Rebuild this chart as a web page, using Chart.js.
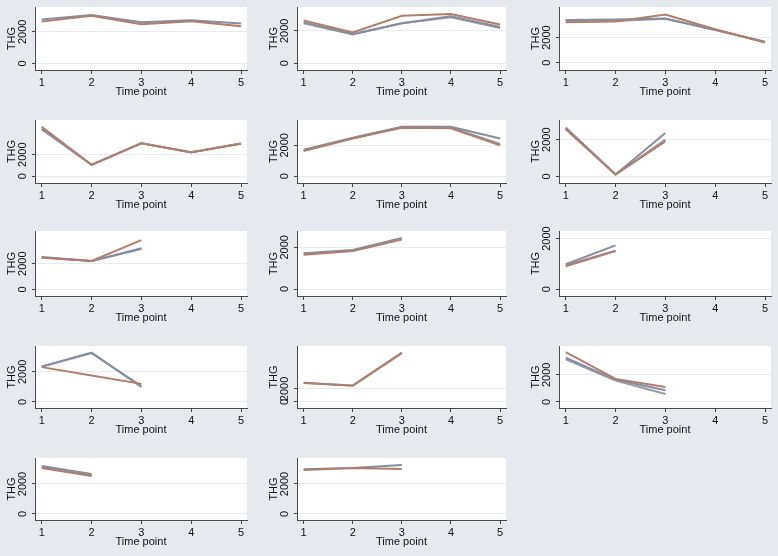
<!DOCTYPE html>
<html>
<head>
<meta charset="utf-8">
<script src="https://cdn.jsdelivr.net/npm/chart.js@4.4.1/dist/chart.umd.min.js"></script>
<style>
    html, body { margin: 0; padding: 0; width: 778px; height: 556px; overflow: hidden; background: #e6eaef; }
    canvas { position: absolute; }
</style>
</head>
<body>
<script>
// THG by time point, one small panel per subject (brown, blue-grey, grey lines)
const timePoints = [1, 2, 3, 4, 5];
const yTickValues = [0, 2000];

const p01 = [[2650, 3030, 2480, 2670, 2360], [2780, 3070, 2610, 2740, 2530]];
const p02 = [[2640, 1900, 2930, 3030, 2390], [2520, 1810, 2470, 2890, 2230], [2470, 1770, 2460, 2830, 2170]];
const p03 = [[3200, 3270, 3820, 2650, 1610], [3380, 3430, 3510, 2600, 1660], [3320, 3300, 3480, 2620, 1640]];
const p04 = [[4590, 1060, 3060, 2220, 3030], [4440, 1070, 3070, 2210, 3040], [4340, 1050, 3050, 2230, 3020]];
const p05 = [[1630, 2440, 3130, 3090, 2000], [1720, 2480, 3200, 3200, 2440], [1680, 2460, 3170, 3150, 2090]];
const p06 = [[2570, 100, 1910], [2660, 110, 2360], [2620, 105, 2000]];
const p07 = [[2470, 2210, 3840], [2520, 2200, 3200], [2490, 2210, 3150]];
const p08 = [[1650, 1820, 2380], [1720, 1870, 2450], [1690, 1840, 2420]];
const p09 = [[905, 1510], [985, 1730], [950, 1520]];
const p10 = [[2310, 1760, 1200], [2330, 3270, 1000], [2360, 3230, 1050]];
const p11 = [[2900, 2500, 7480], [2930, 2520, 7540]];
const p12 = [[3680, 1700, 1110], [3260, 1650, 860], [3140, 1580, 590]];
const p13 = [[3070, 2540], [3200, 2660], [3140, 2600]];
const p14 = [[2930, 3070, 3000], [2980, 3060, 3270]];

const panels = [p01, p02, p03, p04, p05, p06, p07, p08, p09, p10, p11, p12, p13, p14];
const yMins = [-421, -412, -571, -625, -435, -357, -519, -333, -270, -400, -923, -444, -400, -400];
const yMaxs = [3579, 3464, 4416, 5219, 3630, 3071, 4545, 2783, 2297, 3711, 8564, 4123, 3733, 3733];

const lineColors = ['#b07e6c', '#858da0', '#9a9aa4'];

// grid geometry
const colLeft = [0, 259, 518];
const yAxisWidth = [35, 38, 41];
const padRight = [12, 12, 7];
const rowTop = [0, 112, 224, 337, 450];
const padTop = [7, 8, 7, 9, 8];
const xAxisHeight = [42, 41, 40, 41, 42];

const textFont = { family: "'Liberation Sans', Arial, sans-serif", size: 11 };

const plotBackground = {
    id: 'plotBackground',
    beforeDraw: function(chart) {
        const a = chart.chartArea;
        const ctx = chart.ctx;
        ctx.save();
        ctx.fillStyle = '#ffffff';
        ctx.fillRect(a.left, a.top, a.right - a.left, a.bottom - a.top);
        ctx.restore();
    }
};

function drawPanel(series, i) {
    const col = i % 3;
    const row = Math.floor(i / 3);
    const canvas = document.createElement('canvas');
    canvas.width = col === 2 ? 260 : 259;
    canvas.height = 112;
    canvas.style.left = colLeft[col] + 'px';
    canvas.style.top = rowTop[row] + 'px';
    document.body.appendChild(canvas);

    const datasets = series.map(function(values, k) {
        return {
            data: values.map(function(v, j) { return { x: timePoints[j], y: v }; }),
            borderColor: lineColors[k],
            borderWidth: 2,
            pointRadius: 0,
            tension: 0,
            fill: false
        };
    });

    new Chart(canvas, {
        type: 'line',
        data: { datasets: datasets },
        options: {
            responsive: false,
            animation: false,
            events: [],
            layout: { padding: { top: padTop[row], right: padRight[col], left: 0, bottom: 0 } },
            plugins: { legend: { display: false }, tooltip: { enabled: false } },
            scales: {
                x: {
                    type: 'linear',
                    min: 0.865,
                    max: 5.12,
                    afterBuildTicks: function(s) { s.ticks = timePoints.map(function(v) { return { value: v }; }); },
                    afterFit: function(s) { s.height = xAxisHeight[row]; },
                    ticks: { font: textFont, color: '#111', padding: 2, maxRotation: 0, autoSkip: false,
                        callback: function(v) { return String(v); } },
                    grid: { drawOnChartArea: false, tickLength: 4, tickColor: '#444' },
                    border: { color: '#4a4a4a', width: 1 },
                    title: {
                        display: true, text: 'Time point', font: textFont, color: '#111',
                        padding: { top: 0, bottom: xAxisHeight[row] - 22 - 6.6 }
                    }
                },
                y: {
                    type: 'linear',
                    min: yMins[i],
                    max: yMaxs[i],
                    afterBuildTicks: function(s) { s.ticks = yTickValues.map(function(v) { return { value: v }; }); },
                    afterFit: function(s) { s.width = yAxisWidth[col]; },
                    ticks: { font: textFont, color: '#111', minRotation: 90, maxRotation: 90, crossAlign: 'center', padding: -3, autoSkip: false,
                        callback: function(v) { return String(v); } },
                    grid: { color: '#e6ecf2', tickLength: 3, tickColor: '#444' },
                    border: { color: '#4a4a4a', width: 1 },
                    title: {
                        display: true, text: 'THG', font: textFont, color: '#111',
                        padding: { top: yAxisWidth[col] - 23 - 6.6, bottom: 0 }
                    }
                }
            }
        },
        plugins: [plotBackground]
    });
}

panels.forEach(drawPanel);
</script>
</body>
</html>
